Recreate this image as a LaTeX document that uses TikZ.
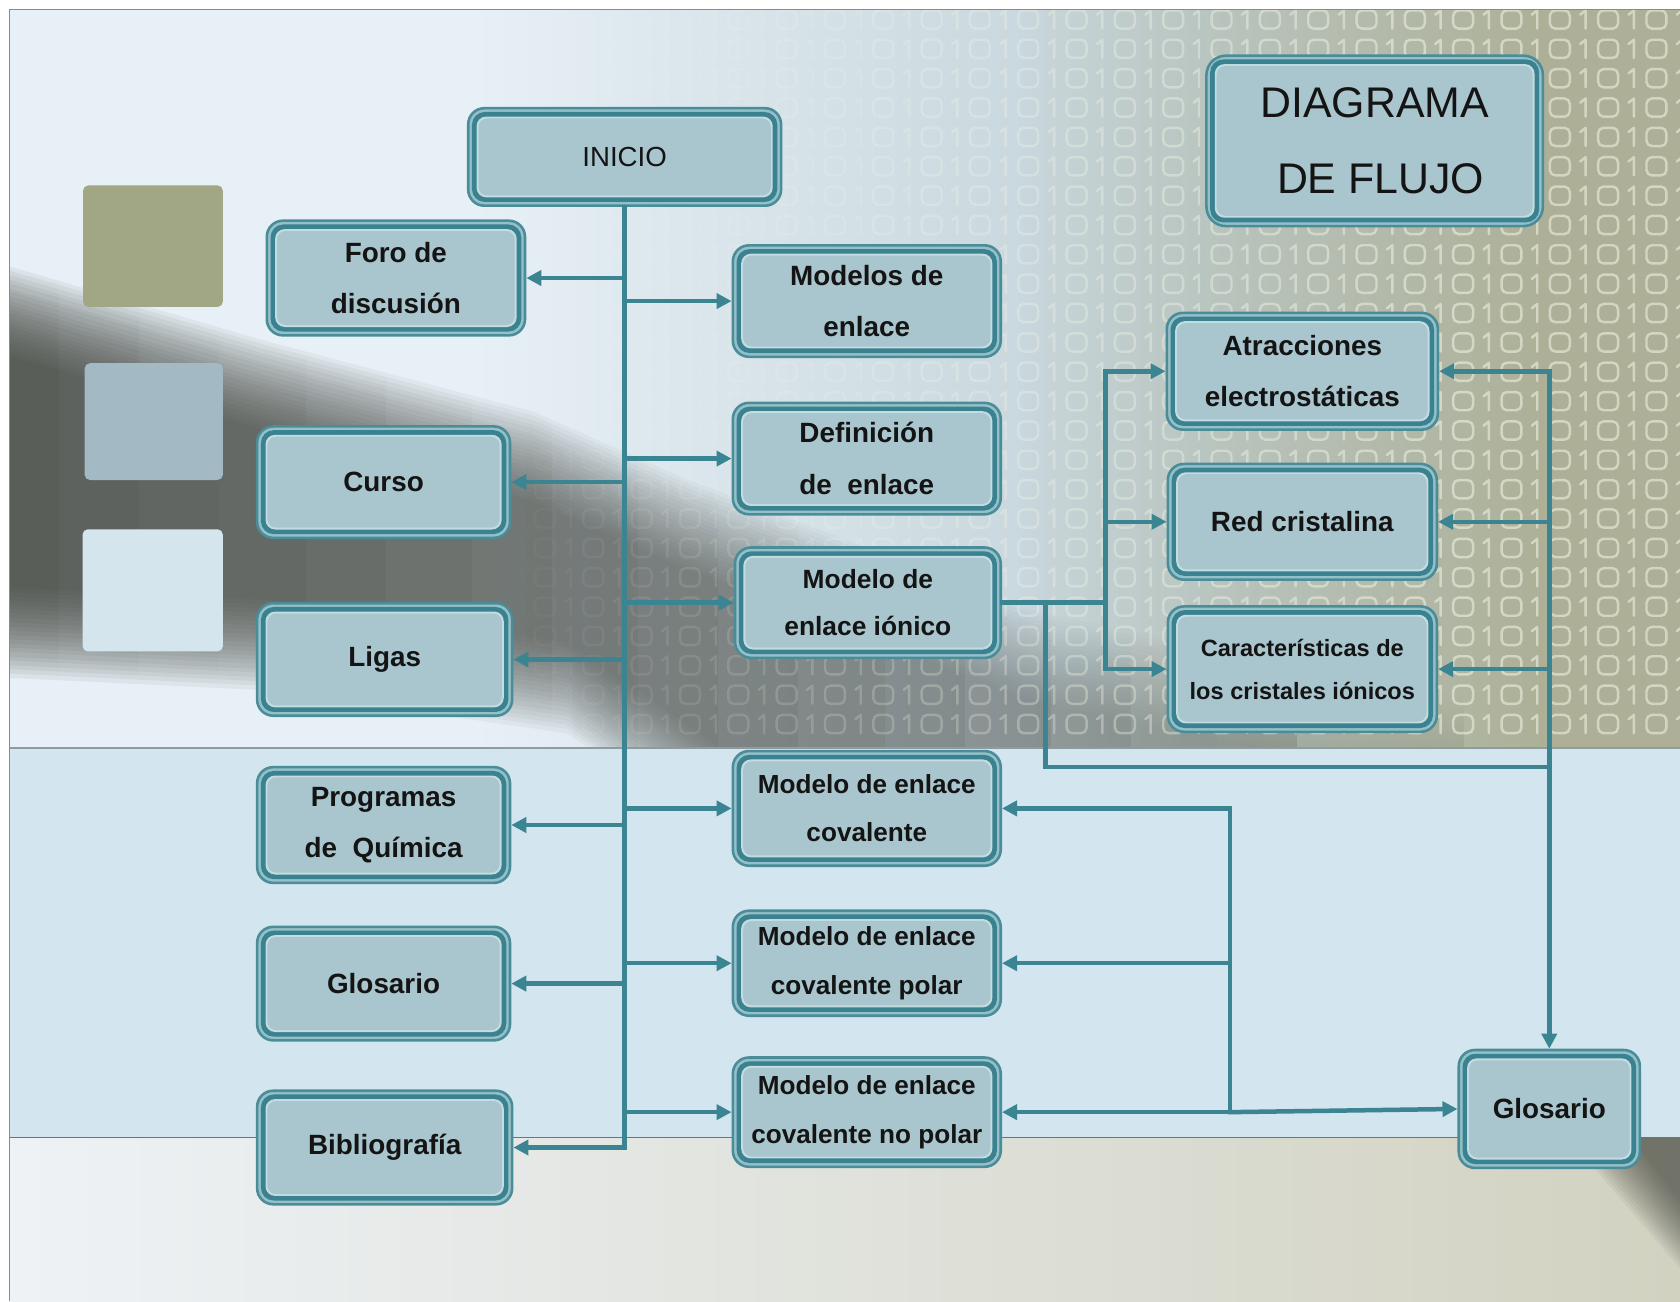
\documentclass[tikz,border=0pt]{standalone}
\usepackage{fontspec}
\setmainfont{Liberation Sans}
\usetikzlibrary{arrows.meta,fadings}

% palette
\definecolor{frameblue}{HTML}{8584B6}
\definecolor{sky}{HTML}{E7F0F6}
\definecolor{haze}{HTML}{BFD0D6}
\definecolor{khaki}{HTML}{ADB096}
\definecolor{shadow}{HTML}{3E413A}
\definecolor{bitcol}{HTML}{F4F5E6}
\definecolor{stripe}{HTML}{D3E5EF}
\definecolor{stripeline}{HTML}{8E9BA1}
\definecolor{floorL}{HTML}{EEF2F6}
\definecolor{floorR}{HTML}{D2D2C1}
\definecolor{sqOlive}{HTML}{A1A784}
\definecolor{sqBlue}{HTML}{A3B9C3}
\definecolor{sqPale}{HTML}{D5E5EE}
\definecolor{rimOuter}{HTML}{4A8D99}
\definecolor{rimLight}{HTML}{94C0C9}
\definecolor{rimDark}{HTML}{3A8290}
\definecolor{rimInner}{HTML}{C3DCE2}
\definecolor{boxfill}{HTML}{A9C5CD}
\definecolor{wireC}{HTML}{3B8491}

\tikzfading[name=fadein east, left color=transparent!100, right color=transparent!0]
\tikzfading[name=fadeout east, left color=transparent!0, middle color=transparent!25, right color=transparent!100]

\tikzset{
  chart box/.style={rectangle, rounded corners=15pt, draw=rimOuter, line width=2.4pt,
    fill=rimLight, inner sep=0pt, align=center, text=black!92,
    font=\bfseries\fontsize{26}{48}\selectfont,
    path picture={
      \fill[rimDark, rounded corners=12pt]
        ([shift={(3.5pt,-3.5pt)}]path picture bounding box.north west) rectangle
        ([shift={(-3.5pt,3.5pt)}]path picture bounding box.south east);
      \fill[rimInner, rounded corners=9pt]
        ([shift={(7.8pt,-7.8pt)}]path picture bounding box.north west) rectangle
        ([shift={(-7.8pt,7.8pt)}]path picture bounding box.south east);
      \fill[boxfill, rounded corners=8pt]
        ([shift={(9.6pt,-9.6pt)}]path picture bounding box.north west) rectangle
        ([shift={(-9.6pt,9.6pt)}]path picture bounding box.south east);
    }},
  boxdim/.style 2 args={minimum width=#1pt, minimum height=#2pt},
  flowline/.style={draw=wireC, line width=4.2pt, line cap=rect},
  flowarrow/.style={flowline, -{Triangle[length=14pt,width=14pt]}},
  bit/.style={bitcol, line width=2.3pt, line cap=round, line join=round}
}

\begin{document}
\begin{tikzpicture}[x=1pt,y=-1pt]
\useasboundingbox (0,0) rectangle (1568,1214.3);
\fill[white] (0,0) rectangle (1568,1214.3);

% ---------- upper panel: sky, haze, khaki, diagonal shadow, binary digits
\begin{scope}
  \clip (8.7,8.7) rectangle (1568,698);
  \fill[sky] (0,0) rectangle (1568,698);
  \fill[haze, path fading=fadein east] (450,0) rectangle (1150,698);
  \fill[haze] (1149,0) rectangle (1568,698);
  \fill[khaki, path fading=fadein east] (950,0) rectangle (1450,698);
  \fill[khaki] (1449,0) rectangle (1568,698);
  % soft diagonal shadow, built from many faint stacked layers
  \foreach \s in {0,4,...,84} {
    \fill[shadow, opacity=0.075, path fading=fadeout east]
      (-60,312-\s) -- (250,402-\s) -- (500,468-\s) -- (640,530-\s) -- (970,655-\s) -- (1400,740-\s)
      -- (1400,820+\s) -- (700,715+\s) -- (530,600+\s) -- (250,560+\s) -- (-60,545+\s) -- cycle;
  }
  % rows of binary digits
  \foreach \i in {-1,...,52} {
    \pgfmathsetmacro\cx{1546-22.55*\i}
    \pgfmathsetmacro\al{min(0.55,max(0,(\cx-450)/900*0.55))}
    \ifodd\i
      \draw[bit, opacity=\al] \foreach \r in {0,...,24} {
        ({\cx-3.5},{18.2+27.4*\r-4.5}) -- ({\cx+1.5},{18.2+27.4*\r-8.5}) -- ({\cx+1.5},{18.2+27.4*\r+8.5}) };
    \else
      \draw[bit, opacity=\al, rounded corners=5pt] \foreach \r in {0,...,24} {
        ({\cx-9.3},{18.2+27.4*\r-8.5}) rectangle ({\cx+9.3},{18.2+27.4*\r+8.5}) };
    \fi
  }
\end{scope}

% ---------- middle stripe
\fill[stripe] (8.7,698) rectangle (1568,1062);
\draw[stripeline, line width=2pt] (8.7,698) -- (1568,698);
\draw[stripeline!75!black, line width=1.5pt] (8.7,1062) -- (1568,1062);

% ---------- lower panel with dark corner
\begin{scope}
  \clip (8.7,1062.8) rectangle (1568,1214.3);
  \shade[left color=floorL, middle color=floorL!55!floorR, right color=floorR] (8.7,1062) rectangle (1568,1214.3);
  \foreach \s in {0,4,...,60}
    \fill[shadow, opacity=0.06] ({1505-\s},1040) -- (1620,1040) -- (1620,{1185+\s}) -- cycle;
\end{scope}

% ---------- frame
\draw[frameblue, line width=1.3pt] (8.7,1214.3) -- (8.7,8.7) -- (1568,8.7);

% ---------- colour swatches
\fill[sqOlive, rounded corners=5pt] (77.5,173) rectangle (208,286.5);
\fill[sqBlue, rounded corners=5pt] (79,339) rectangle (208,448);
\fill[sqPale, rounded corners=5pt] (77,494) rectangle (208,608);

% ---------- boxes
\node[chart box, boxdim={292}{91}, font=\fontsize{25.8}{30}\selectfont] (inicio) at (583,146.5) {INICIO};
\node[chart box, boxdim={241}{107}] (foro) at (369.5,259.5) {Foro de\\discusión};
\node[chart box, boxdim={250}{104}] (modelos) at (809,281) {Modelos de\\enlace};
\node[chart box, boxdim={250}{104}] (defin) at (809,428) {Definición\\de\ \ enlace};
\node[chart box, boxdim={236}{104}] (curso) at (358,450) {Curso};
\node[chart box, boxdim={248}{103}, font=\bfseries\fontsize{24.6}{44}\selectfont] (ionico) at (810,562.5) {Modelo de\\enlace iónico};
\node[chart box, boxdim={238}{105}] (ligas) at (359,615.5) {Ligas};
\node[chart box, boxdim={236}{108}] (programas) at (358,770) {Programas\\de\ \ Química};
\node[chart box, boxdim={250}{107}, font=\bfseries\fontsize{24.4}{44.5}\selectfont] (covalente) at (809,754.5) {Modelo de enlace\\covalente};
\node[chart box, boxdim={236}{106}] (glosL) at (358,918) {Glosario};
\node[chart box, boxdim={250}{98}, font=\bfseries\fontsize{24.4}{45}\selectfont] (polar) at (809,899) {Modelo de enlace\\covalente polar};
\node[chart box, boxdim={238}{106}] (biblio) at (359,1071) {Bibliografía};
\node[chart box, boxdim={250}{102}, font=\bfseries\fontsize{24.4}{45}\selectfont] (nopolar) at (809,1038) {Modelo de enlace\\covalente no polar};
\node[chart box, boxdim={314}{159}, rounded corners=18pt, font=\fontsize{40}{71}\selectfont] (titulo) at (1283,131.5) {DIAGRAMA\\\ DE FLUJO};
\node[chart box, boxdim={253}{109}] (atrac) at (1215.5,346.5) {Atracciones\\electrostáticas};
\node[chart box, boxdim={251}{108}] (red) at (1215.5,487) {Red cristalina};
\node[chart box, boxdim={251}{117}, font=\bfseries\fontsize{22}{40}\selectfont] (caract) at (1215.5,624.5) {Características de\\los cristales iónicos};
\node[chart box, boxdim={169}{110}] (glosR) at (1446,1035) {Glosario};

% ---------- junction points
\coordinate (busI) at (1032,562);
\coordinate (loopA) at (976,716);
\coordinate (loopB) at (1446,716);
\coordinate (busC) at (1148,754);

% ---------- main trunk from INICIO
\draw[flowarrow] (inicio.south) -- (inicio.south |- biblio.east) -- (biblio.east);
\foreach \n in {foro,curso,ligas,programas,glosL}
  \draw[flowarrow] (inicio.south |- \n.east) -- (\n.east);
\foreach \n in {modelos,defin,ionico,covalente,polar,nopolar}
  \draw[flowarrow] (inicio.south |- \n.west) -- (\n.west);

% ---------- ionic model branch
\draw[flowline] (ionico.east) -- (ionico.east -| busI);
\draw[flowline] (busI |- atrac.west) -- (busI |- caract.west);
\foreach \n in {atrac,red,caract}
  \draw[flowarrow] (busI |- \n.west) -- (\n.west);
\draw[flowline] (loopA |- ionico.east) -- (loopA) -- (loopB);
\draw[flowarrow] (loopB |- atrac.east) -- (glosR.north);
\foreach \n in {atrac,red,caract}
  \draw[flowarrow] (loopB |- \n.east) -- (\n.east);

% ---------- covalent models and glossary
\draw[flowline] (busC |- covalente.east) -- (busC |- nopolar.east);
\foreach \n in {covalente,polar,nopolar}
  \draw[flowarrow] (busC |- \n.east) -- (\n.east);
\draw[flowarrow] (busC |- nopolar.east) -- (glosR.west);
\end{tikzpicture}
\end{document}
